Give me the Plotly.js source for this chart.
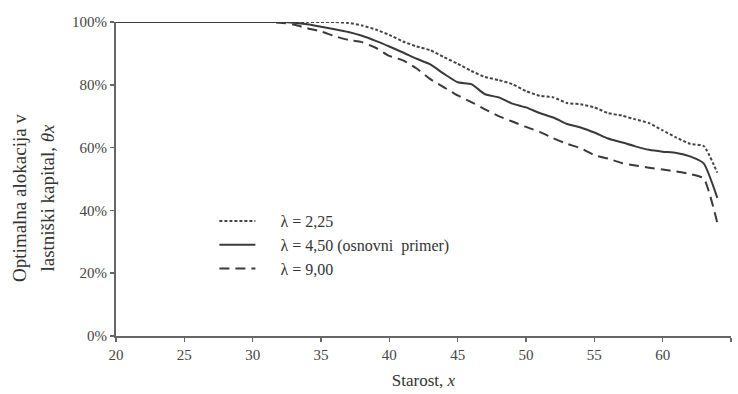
<!DOCTYPE html>
<html>
<head>
<meta charset="utf-8">
<script src="https://cdn.plot.ly/plotly-3.0.1.min.js"></script>
<style>html,body{margin:0;padding:0;background:#fff;}#chart{width:738px;height:394px;}</style>
</head>
<body>
<div id="chart"></div>
<script>
const ages = [20,21,22,23,24,25,26,27,28,29,30,31,32,33,34,35,36,37,38,39,40,41,42,43,44,45,46,47,48,49,50,51,52,53,54,55,56,57,58,59,60,61,62,63,64];
const lambda225 = [100,100,100,100,100,100,100,100,100,100,100,100,100,100,100,100,100,99.7,98.9,97.6,95.9,93.8,92.2,91,88.8,86.7,84.4,82.5,81.5,80.2,78,76.5,76,74.2,73.8,72.8,71,70.2,69,67.8,65.5,63.2,61.2,60.5,52];
const lambda450 = [100,100,100,100,100,100,100,100,100,100,100,100,100,99.8,99.3,98.5,97.7,96.8,95.6,94,92.2,90.3,88.3,86.5,83.5,80.8,80.2,77,76,74,72.8,71,69.6,67.5,66.4,64.8,62.9,61.7,60.4,59.3,58.7,58.3,57.2,55,44];
const lambda900 = [100,100,100,100,100,100,100,100,100,100,100,100,99.8,99.2,98,97,95.5,94.3,93.6,91.8,89.2,87.8,85.2,81.8,79.2,76.6,74.5,72.2,70,68.3,66.6,65,63,61.2,59.8,57.6,56.5,55.1,54.3,53.6,53,52.4,51.6,50.2,36];
const seriesNames = ['λ = 2,25', 'λ = 4,50 (osnovni  primer)', 'λ = 9,00'];
const xTicks = [20,25,30,35,40,45,50,55,60,65];
const yTicks = [0,20,40,60,80,100];
const yTitleLines = ['Optimalna alokacija v', 'lastniški kapital, <i>θx</i>'];
const xTitle = 'Starost, <i>x</i>';

const serif = 'Liberation Serif, Times New Roman, serif';
const pad = '&nbsp;&nbsp;&nbsp;&nbsp;&nbsp;';
const traces = [
  {x: ages, y: lambda225, name: pad + seriesNames[0], mode: 'lines',
   line: {color: '#444', width: 2, dash: '3px,2px', shape: 'spline', smoothing: 0.5}},
  {x: ages, y: lambda450, name: pad + seriesNames[1], mode: 'lines',
   line: {color: '#3a3a3a', width: 2, shape: 'spline', smoothing: 0.5}},
  {x: ages, y: lambda900, name: pad + seriesNames[2], mode: 'lines',
   line: {color: '#3a3a3a', width: 2, dash: '10px,6px', shape: 'spline', smoothing: 0.5}}
];

const layout = {
  width: 738, height: 394,
  margin: {l: 116, r: 7, t: 22, b: 58},
  paper_bgcolor: '#fff', plot_bgcolor: '#fff',
  font: {family: serif, color: '#444', size: 15},
  showlegend: true,
  legend: {x: 0.16, y: 0.42, xanchor: 'left', yanchor: 'top',
           bgcolor: 'rgba(0,0,0,0)', font: {family: serif, size: 16, color: '#333'},
           itemwidth: 36, tracegroupgap: 0},
  xaxis: {
    range: [20, 65], tickvals: xTicks, ticktext: xTicks.map(String),
    showgrid: false, zeroline: false, showline: true, linecolor: '#666', linewidth: 2,
    ticks: 'outside', ticklen: 4, tickwidth: 1.5, tickcolor: '#666',
    tickfont: {family: serif, size: 15, color: '#444'},
    title: {text: xTitle, font: {family: serif, size: 17, color: '#333'}, standoff: 12}
  },
  yaxis: {
    range: [0, 100], tickvals: yTicks, ticktext: yTicks.map(v => v + '%'),
    showgrid: false, zeroline: false, showline: true, linecolor: '#666', linewidth: 2,
    ticks: 'outside', ticklen: 4, tickwidth: 1.5, tickcolor: '#666',
    tickfont: {family: serif, size: 15, color: '#444'}
  },
  annotations: [
    {text: yTitleLines[0], xref: 'paper', yref: 'paper', x: -0.156, y: 0.44,
     xanchor: 'center', yanchor: 'middle', textangle: -90, showarrow: false,
     font: {family: serif, size: 19, color: '#333'}},
    {text: yTitleLines[1], xref: 'paper', yref: 'paper', x: -0.111, y: 0.44,
     xanchor: 'center', yanchor: 'middle', textangle: -90, showarrow: false,
     font: {family: serif, size: 19, color: '#333'}}
  ]
};

Plotly.newPlot('chart', traces, layout, {staticPlot: true, displayModeBar: false});
</script>
</body>
</html>
